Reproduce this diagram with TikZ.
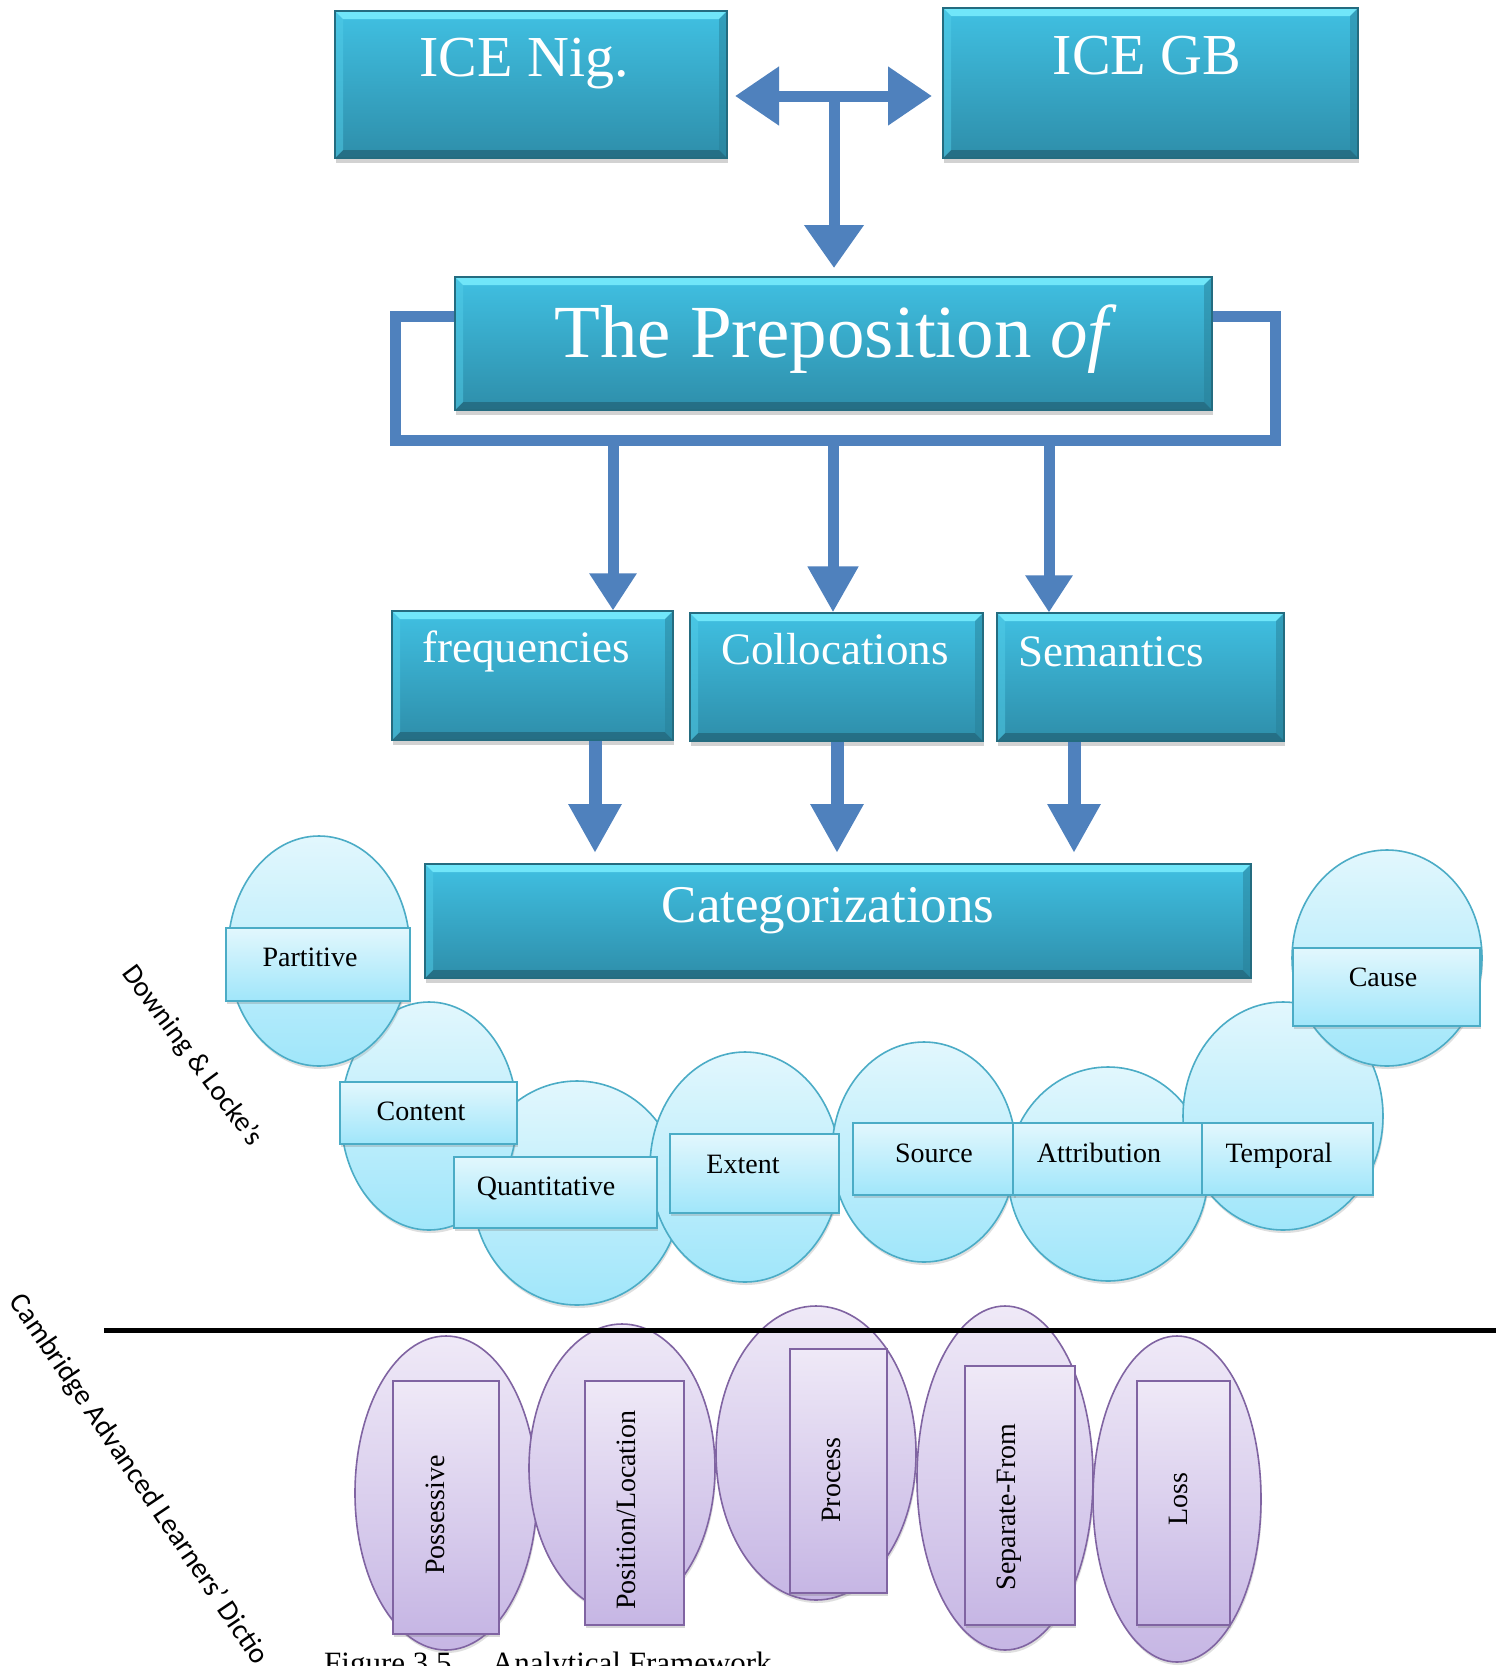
\documentclass[tikz,border=0pt]{standalone}
\usepackage{fontspec}
\setmainfont{Liberation Serif}
\newfontfamily\calib{Carlito}
\usetikzlibrary{arrows.meta,shapes.geometric,shadows}

\definecolor{tealTop}{RGB}{64,192,226}
\definecolor{tealBot}{RGB}{46,142,170}
\definecolor{tealEdge}{RGB}{36,108,128}
\definecolor{tealHi}{RGB}{112,230,249}
\definecolor{tealLo}{RGB}{34,98,118}
\definecolor{tealLeft}{RGB}{82,205,232}
\definecolor{tealRight}{RGB}{40,128,152}
\definecolor{arrowBlue}{RGB}{79,129,189}
\definecolor{aquaTop}{RGB}{226,247,253}
\definecolor{aquaBot}{RGB}{160,230,250}
\definecolor{aquaEdge}{RGB}{75,172,198}
\definecolor{lilacTop}{RGB}{239,233,247}
\definecolor{lilacBot}{RGB}{198,182,228}
\definecolor{lilacEdge}{RGB}{128,100,162}

\begin{document}
\begin{tikzpicture}[x=1pt,y=-1pt,
  bevel/.style={path picture={
    \fill[tealHi] (path picture bounding box.north west) -- (path picture bounding box.north east)
      -- ([shift={(-8pt,-8pt)}]path picture bounding box.north east) -- ([shift={(8pt,-8pt)}]path picture bounding box.north west) -- cycle;
    \fill[tealLo,opacity=0.7] (path picture bounding box.south west) -- (path picture bounding box.south east)
      -- ([shift={(-8pt,8pt)}]path picture bounding box.south east) -- ([shift={(8pt,8pt)}]path picture bounding box.south west) -- cycle;
    \fill[tealLeft,opacity=0.5] (path picture bounding box.north west) -- (path picture bounding box.south west)
      -- ([shift={(8pt,8pt)}]path picture bounding box.south west) -- ([shift={(8pt,-8pt)}]path picture bounding box.north west) -- cycle;
    \fill[tealRight,opacity=0.5] (path picture bounding box.north east) -- (path picture bounding box.south east)
      -- ([shift={(-8pt,8pt)}]path picture bounding box.south east) -- ([shift={(-8pt,-8pt)}]path picture bounding box.north east) -- cycle;
  }},
  tealbox/.style={draw=tealEdge, line width=1.2pt, top color=tealTop, bottom color=tealBot,
    inner sep=0pt, bevel, drop shadow={shadow xshift=1pt, shadow yshift=-5pt, opacity=0.35}},
  tealtext/.style={text=white, inner sep=0pt, anchor=base},
  aquaell/.style={ellipse, draw=aquaEdge, line width=1.6pt, top color=aquaTop, bottom color=aquaBot,
    inner sep=0pt, drop shadow={shadow xshift=1pt, shadow yshift=-3pt, opacity=0.25}},
  aquarect/.style={draw=aquaEdge, line width=1.6pt, top color=aquaTop, bottom color=aquaBot,
    inner sep=0pt, drop shadow={shadow xshift=1pt, shadow yshift=-3pt, opacity=0.3}},
  aquatext/.style={inner sep=0pt, anchor=base, font=\fontsize{28}{30}\selectfont},
  lilacell/.style={ellipse, draw=lilacEdge, line width=1.6pt, top color=lilacTop, bottom color=lilacBot,
    inner sep=0pt, drop shadow={shadow xshift=1pt, shadow yshift=-3pt, opacity=0.25}},
  lilacrect/.style={draw=lilacEdge, line width=1.6pt, top color=lilacTop, bottom color=lilacBot,
    inner sep=0pt, drop shadow={shadow xshift=1pt, shadow yshift=-3pt, opacity=0.3}},
  lilactext/.style={inner sep=0pt, anchor=base, rotate=90, font=\fontsize{28}{30}\selectfont},
  barrow/.style={draw=arrowBlue, line width=11pt},
  barrowb/.style={draw=arrowBlue, line width=13pt}
]
\useasboundingbox (0,0) rectangle (1496,1666);
\clip (0,0) rectangle (1496,1666);
\fill[white] (0,0) rectangle (1496,1666);

% ---------- top: ICE boxes ----------
\coordinate (hl) at (735,96);
\coordinate (hr) at (932,96);
\coordinate (hm) at (834,96);
\coordinate (vt) at (834,268);
\draw[barrow, {Triangle[length=44pt,width=56pt]}-{Triangle[length=44pt,width=56pt]}] (hl) -- (hr);
\draw[barrow, -{Triangle[length=43pt,width=57pt]}] (hm) -- (vt);

\node[tealbox, minimum width=392pt, minimum height=147pt] (icenig) at (531,84.5) {};
\node[tealbox, minimum width=415pt, minimum height=150pt] (icegb) at (1150.5,83) {};
\node[tealtext, font=\fontsize{58}{60}\selectfont] (ticenig) at (524,76.5) {ICE Nig.};
\node[tealtext, font=\fontsize{58}{60}\selectfont] (ticegb) at (1147,74.5) {ICE GB};

% ---------- frame and preposition ----------
\node[draw=arrowBlue, line width=11pt, minimum width=880pt, minimum height=124pt, inner sep=0pt] (frame) at (835,378) {};
\node[tealbox, minimum width=757pt, minimum height=133pt] (prep) at (833.5,343.5) {};
\node[tealtext, font=\fontsize{75}{78}\selectfont] (tprep) at (836,357) {The Preposition \textit{of}};

% ---------- arrows to second row ----------
\coordinate (fx1) at (613,0);
\coordinate (fx2) at (833,0);
\coordinate (fx3) at (1049,0);
\node[tealbox, minimum width=281pt, minimum height=129pt] (freq) at (532.5,675.5) {};
\node[tealbox, minimum width=293pt, minimum height=128pt] (coll) at (836.5,677) {};
\node[tealbox, minimum width=287pt, minimum height=128pt] (sem) at (1140.5,677) {};
\draw[barrow, -{Triangle[length=37pt,width=45pt]}] (frame.south -| fx1) -- (fx1 |- freq.north);
\draw[barrow, -{Triangle[length=46pt,width=48pt]}] (frame.south -| fx2) -- (fx2 |- coll.north);
\draw[barrow, -{Triangle[length=37pt,width=45pt]}] (frame.south -| fx3) -- (fx3 |- sem.north);

\node[tealtext, font=\fontsize{45}{48}\selectfont] (tfreq) at (526,662) {frequencies};
\node[tealtext, font=\fontsize{45}{48}\selectfont] (tcoll) at (835,664) {Collocations};
\node[tealtext, font=\fontsize{45}{48}\selectfont] (tsem) at (1111,666) {Semantics};

% ---------- arrows to categorizations ----------
\coordinate (gx1) at (595,853);
\coordinate (gx2) at (837,853);
\coordinate (gx3) at (1074,853);
\draw[barrowb, -{Triangle[length=49pt,width=50pt]}] (freq.south -| gx1) -- (gx1);
\draw[barrowb, -{Triangle[length=49pt,width=50pt]}] (coll.south -| gx2) -- (gx2);
\draw[barrowb, -{Triangle[length=49pt,width=50pt]}] (sem.south -| gx3) -- (gx3);

\node[tealbox, minimum width=826pt, minimum height=114pt] (cat) at (838,921) {};
\node[tealtext, font=\fontsize{53}{56}\selectfont] (tcat) at (828,922) {Categorizations};

% ---------- Downing & Locke categories ----------
\node[aquaell, minimum width=208pt, minimum height=224pt] (e3) at (577,1193) {};
\node[aquaell, minimum width=176pt, minimum height=228pt] (e2) at (429,1116) {};
\node[aquaell, minimum width=182pt, minimum height=230pt] (e1) at (319,951) {};
\node[aquaell, minimum width=190pt, minimum height=230pt] (e4) at (745,1167) {};
\node[aquaell, minimum width=184pt, minimum height=220pt] (e5) at (924,1152) {};
\node[aquaell, minimum width=200pt, minimum height=214pt] (e6) at (1108,1174) {};
\node[aquaell, minimum width=200pt, minimum height=228pt] (e7) at (1283,1116) {};
\node[aquaell, minimum width=190pt, minimum height=216pt] (e8) at (1387,958) {};

\node[aquarect, minimum width=184pt, minimum height=73pt] (r1) at (318,964.5) {};
\node[aquarect, minimum width=177pt, minimum height=62pt] (r2) at (428.5,1113) {};
\node[aquarect, minimum width=203pt, minimum height=71pt] (r3) at (555.5,1192.5) {};
\node[aquarect, minimum width=169pt, minimum height=79pt] (r4) at (754.5,1173.5) {};
\node[aquarect, minimum width=162pt, minimum height=72pt] (r5) at (934,1159) {};
\node[aquarect, minimum width=189pt, minimum height=72pt] (r6) at (1107.5,1159) {};
\node[aquarect, minimum width=171pt, minimum height=72pt] (r7) at (1287.5,1159) {};
\node[aquarect, minimum width=187pt, minimum height=78pt] (r8) at (1386.5,987) {};

\node[aquatext] (t1) at (310,966) {Partitive};
\node[aquatext] (t2) at (421,1120) {Content};
\node[aquatext] (t3) at (546,1195) {Quantitative};
\node[aquatext] (t4) at (743,1173) {Extent};
\node[aquatext] (t5) at (934,1162) {Source};
\node[aquatext] (t6) at (1099,1162) {Attribution};
\node[aquatext] (t7) at (1279,1162) {Temporal};
\node[aquatext] (t8) at (1383,986) {Cause};

\node[inner sep=0pt, rotate=-53.5, font=\calib\fontsize{28.5}{30}\selectfont] (downing) at (192,1056) {Downing \& Locke’s};

% ---------- Cambridge categories ----------
\node[lilacell, minimum width=182pt, minimum height=314pt] (p1) at (446,1493) {};
\node[lilacell, minimum width=186pt, minimum height=288pt] (p2) at (622,1468) {};
\node[lilacell, minimum width=200pt, minimum height=294pt] (p3) at (816,1453) {};
\node[lilacell, minimum width=176pt, minimum height=344pt] (p4) at (1005,1478) {};
\node[lilacell, minimum width=168pt, minimum height=326pt] (p5) at (1177,1499) {};

\node[lilacrect, minimum width=106pt, minimum height=253pt] (q1) at (446,1507.5) {};
\node[lilacrect, minimum width=99pt, minimum height=244pt] (q2) at (634.5,1503) {};
\node[lilacrect, minimum width=97pt, minimum height=244pt] (q3) at (838.5,1471) {};
\node[lilacrect, minimum width=110pt, minimum height=259pt] (q4) at (1020,1495.5) {};
\node[lilacrect, minimum width=93pt, minimum height=244pt] (q5) at (1183.5,1503) {};

\node[lilactext] (u1) at (444,1515) {Possessive};
\node[lilactext] (u2) at (635,1510) {Position/Location};
\node[lilactext] (u3) at (840,1480) {Process};
\node[lilactext] (u4) at (1015,1507) {Separate-From};
\node[lilactext] (u5) at (1187,1499) {Loss};

% ---------- divider ----------
\coordinate (dl) at (104,1330);
\coordinate (dr) at (1496,1330);
\draw[line width=5pt] (dl) -- (dr);

\node[inner sep=0pt, anchor=north west, rotate=-56, font=\calib\fontsize{29}{31}\selectfont] (cald) at (26,1290) {Cambridge Advanced Learners’ Dictio};

% ---------- caption ----------
\node[inner sep=0pt, anchor=base west, font=\fontsize{31}{33}\selectfont] (caption) at (324,1673) {Figure 3.5\hspace{1.3em}Analytical Framework};
\end{tikzpicture}
\end{document}
